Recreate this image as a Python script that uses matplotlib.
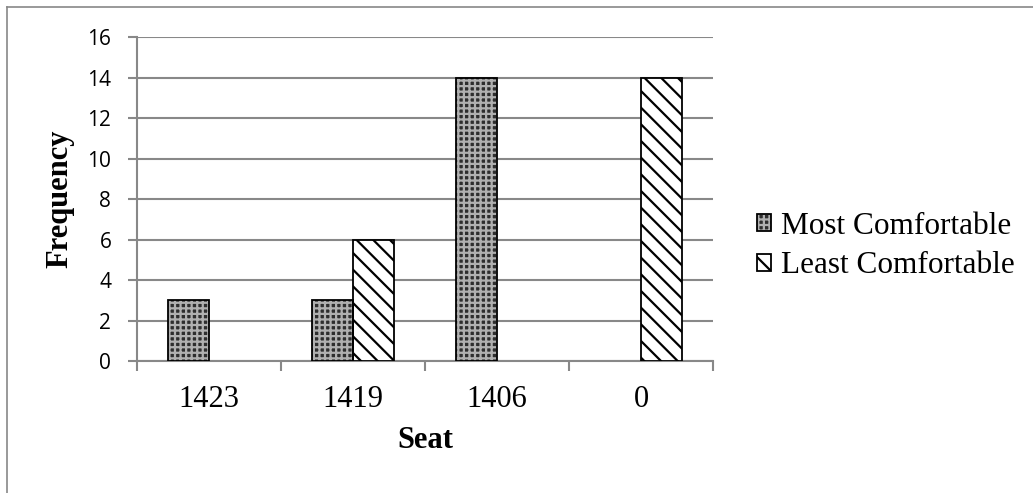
import numpy as np
import matplotlib.pyplot as plt
from matplotlib.patches import Patch
from matplotlib.lines import Line2D

seats = ['1423', '1419', '1406', '0']
most_comfortable = [3, 3, 14, 0]
least_comfortable = [0, 6, 0, 14]

plt.rcParams['hatch.linewidth'] = 1.6

fig = plt.figure(figsize=(10.33, 4.93), dpi=100)
ax = fig.add_axes([0.1326, 0.2677, 0.5576, 0.6572])

x = np.arange(len(seats))
w = 0.285

# checkered fill: dark face with light cross-hatch, black outline drawn on top
most_fill = dict(facecolor='#2e2e2e', edgecolor='#b0b0b0', hatch='+++', linewidth=0)
least_fill = dict(facecolor='white', edgecolor='black', hatch='\\\\', linewidth=0)
outline = dict(fill=False, edgecolor='black', linewidth=1.3)

containers = [
    ax.bar(x - w / 2, most_comfortable, w, zorder=3, **most_fill),
    ax.bar(x - w / 2, most_comfortable, w, zorder=4, **outline),
    ax.bar(x + w / 2, least_comfortable, w, zorder=3, **least_fill),
    ax.bar(x + w / 2, least_comfortable, w, zorder=4, **outline),
]
# empty categories show no bar at all
for bars in containers:
    for b in bars:
        if b.get_height() == 0:
            b.set_visible(False)

ax.set_xlim(-0.5, len(seats) - 0.5)
ax.set_ylim(0, 16)
ax.set_yticks(range(0, 17, 2))
ax.yaxis.grid(True, color='#888888', linewidth=1.5, zorder=0)
ax.set_axisbelow(True)

ax.set_xticks(x)
ax.set_xticklabels(seats, family='Liberation Serif', fontsize=22)
ax.set_xticks(np.arange(-0.5, len(seats)), minor=True)
ax.tick_params(axis='x', which='major', length=0, pad=17)
ax.tick_params(axis='x', which='minor', length=7.5, width=1.5, color='#888888')
ax.tick_params(axis='y', length=6.5, width=1.5, color='#888888', labelsize=15, pad=12)
for lbl in ax.get_yticklabels():
    lbl.set_family('Open Sans')

for s in ['top', 'right']:
    ax.spines[s].set_visible(False)
for s in ['left', 'bottom']:
    ax.spines[s].set_color('#888888')
    ax.spines[s].set_linewidth(1.5)

ax.set_xlabel('Seat', family='Liberation Serif', fontsize=22, fontweight='bold', labelpad=9)
ax.set_ylabel('Frequency', family='Liberation Serif', fontsize=22, fontweight='bold', labelpad=9)

handles = [(Patch(**most_fill), Patch(**outline)),
           (Patch(**least_fill), Patch(**outline))]
fig.legend(handles, ['Most Comfortable', 'Least Comfortable'],
           loc='center left', bbox_to_anchor=(0.733, 0.501), frameon=False,
           prop={'family': 'Liberation Serif', 'size': 22.5},
           borderpad=0, borderaxespad=0,
           handlelength=0.45, handleheight=0.45, handletextpad=0.3, labelspacing=0.35)

# outer chart border (only left and top edges show)
fig.add_artist(Line2D([0.007, 0.007], [0, 0.986], transform=fig.transFigure,
                      color='#888888', linewidth=1.2))
fig.add_artist(Line2D([0.007, 1.0], [0.986, 0.986], transform=fig.transFigure,
                      color='#888888', linewidth=1.2))

fig.savefig('out.png', dpi=100)
